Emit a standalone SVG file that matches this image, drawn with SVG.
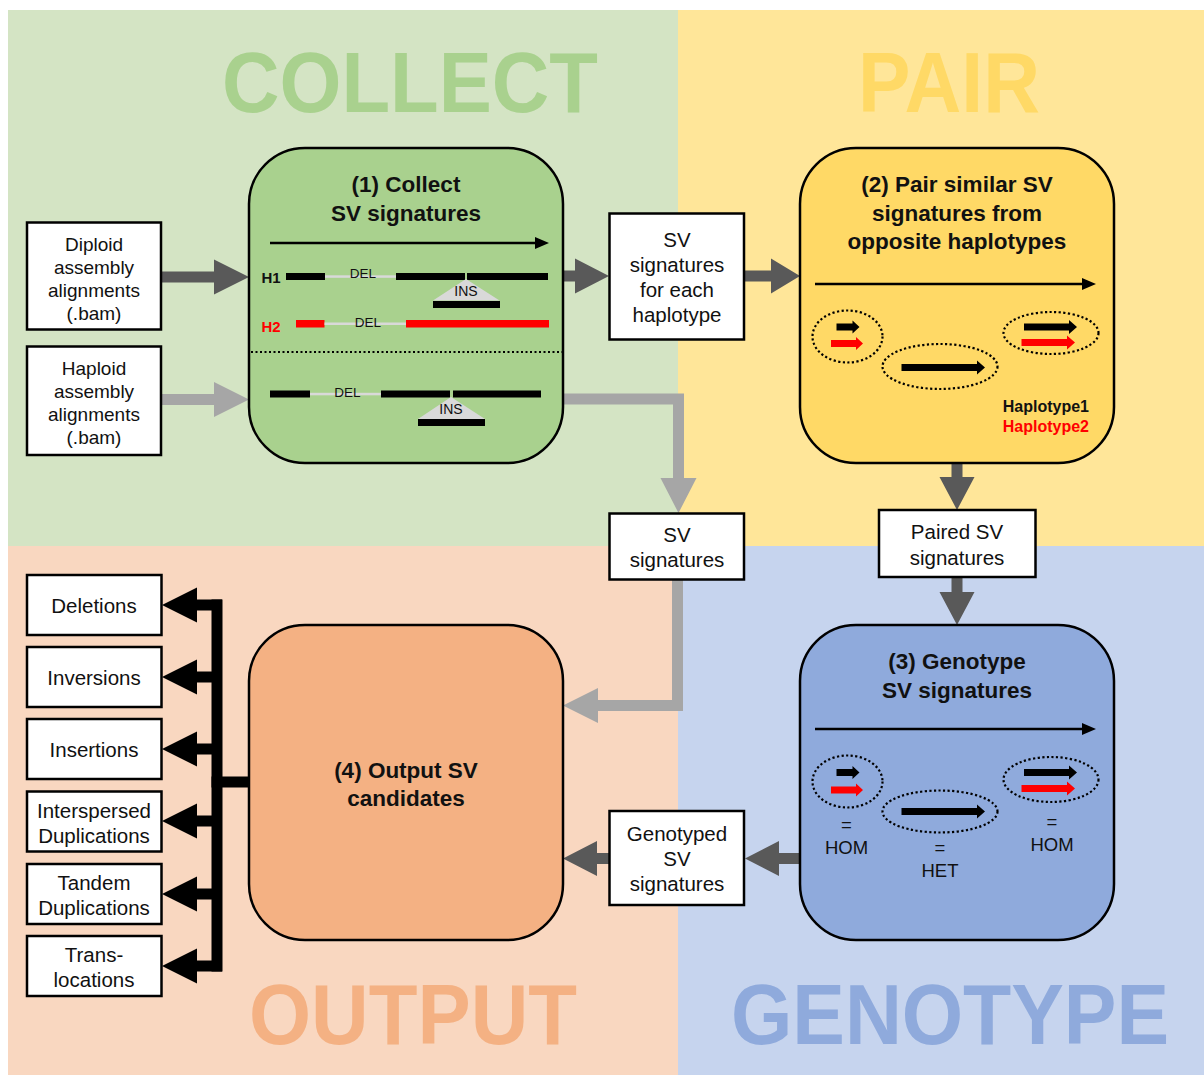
<svg xmlns="http://www.w3.org/2000/svg" width="1204" height="1075" viewBox="0 0 1204 1075">
<style>
.t{font-family:"Liberation Sans",Arial,sans-serif;text-anchor:middle;fill:#111}
.b{font-weight:bold}
.big{font-family:"Liberation Sans",Arial,sans-serif;font-weight:bold;font-size:85px;text-anchor:middle}
.wbox{fill:#fff;stroke:#000;stroke-width:2.5}
.stage{stroke:#000;stroke-width:2.5}
.dk{fill:#595959}
.lt{fill:#a6a6a6}
.dot{fill:none;stroke:#000;stroke-width:2.2;stroke-dasharray:2.2 2.4}
.gl{fill:#d9d9d9}
.red{fill:#ff0000}
</style>
<!-- backgrounds -->
<rect x="8" y="10" width="670" height="536" fill="#d4e4c4"/>
<rect x="678" y="10" width="526" height="536" fill="#ffe699"/>
<rect x="8" y="546" width="670" height="529" fill="#f9d7c0"/>
<rect x="678" y="546" width="526" height="529" fill="#c6d4ee"/>
<text class="big" x="410" y="112" fill="#a9d18e" textLength="376" lengthAdjust="spacingAndGlyphs">COLLECT</text>
<text class="big" x="949" y="112" fill="#ffd966" textLength="182" lengthAdjust="spacingAndGlyphs">PAIR</text>
<text class="big" x="413" y="1044" fill="#f4b183" textLength="328" lengthAdjust="spacingAndGlyphs">OUTPUT</text>
<text class="big" x="950" y="1044" fill="#8faadc" textLength="438" lengthAdjust="spacingAndGlyphs">GENOTYPE</text>

<!-- connectors -->
<g id="connectors">
  <polygon class="dk" points="161,271.5 214,271.5 214,259.5 249,277 214,294.5 214,282.5 161,282.5"/>
  <polygon class="lt" points="161,394 214,394 214,382 249,399.5 214,417 214,405 161,405"/>
  <polygon class="dk" points="563,270.5 575,270.5 575,258.5 609,276 575,293.5 575,281.5 563,281.5"/>
  <polygon class="dk" points="744,270.5 771,270.5 771,258.5 800,276 771,293.5 771,281.5 744,281.5"/>
  <polygon class="lt" points="563,393.5 684,393.5 684,478 696.5,478 678.5,513 660.5,478 673,478 673,404.5 563,404.5"/>
  <polygon class="lt" points="672,580 683,580 683,711 598,711 598,723 563,705.5 598,688 598,700 672,700"/>
  <polygon class="dk" points="951.5,463 962.5,463 962.5,477 974.5,477 957,510 939.5,477 951.5,477"/>
  <polygon class="dk" points="951.5,577 962.5,577 962.5,592 974.5,592 957,625 939.5,592 951.5,592"/>
  <polygon class="dk" points="800,853 779,853 779,841 745,858.5 779,876 779,864 800,864"/>
  <polygon class="dk" points="609,853 597,853 597,841 563,858.5 597,876 597,864 609,864"/>
  <!-- output bracket -->
  <rect x="211.5" y="599.5" width="11" height="372" fill="#000"/>
  <rect x="211.5" y="776.5" width="38" height="11" fill="#000"/>
  <g fill="#000">
    <rect x="196" y="599.5" width="26" height="11"/><polygon points="162,605 197,587.5 197,622.5"/>
    <rect x="196" y="671.5" width="26" height="11"/><polygon points="162,677 197,659.5 197,694.5"/>
    <rect x="196" y="743.5" width="26" height="11"/><polygon points="162,749 197,731.5 197,766.5"/>
    <rect x="196" y="815.5" width="26" height="11"/><polygon points="162,821 197,803.5 197,838.5"/>
    <rect x="196" y="888.5" width="26" height="11"/><polygon points="162,894 197,876.5 197,911.5"/>
    <rect x="196" y="960.5" width="26" height="11"/><polygon points="162,966 197,948.5 197,983.5"/>
  </g>
</g>

<!-- input boxes -->
<g id="diploid">
  <rect class="wbox" x="27" y="222.5" width="134" height="107"/>
  <text class="t" font-size="19"><tspan x="94" y="251">Diploid</tspan><tspan x="94" y="274">assembly</tspan><tspan x="94" y="297">alignments</tspan><tspan x="94" y="320">(.bam)</tspan></text>
</g>
<g id="haploid">
  <rect class="wbox" x="27" y="346.5" width="134" height="108.5"/>
  <text class="t" font-size="19"><tspan x="94" y="375">Haploid</tspan><tspan x="94" y="398">assembly</tspan><tspan x="94" y="421">alignments</tspan><tspan x="94" y="444">(.bam)</tspan></text>
</g>

<!-- (1) Collect -->
<g id="collect">
  <rect class="stage" x="249" y="148" width="314" height="315" rx="56" fill="#a9d18e"/>
  <text class="t b" font-size="22.5"><tspan x="406" y="192">(1) Collect</tspan><tspan x="406" y="220.5">SV signatures</tspan></text>
  <line x1="270" y1="243" x2="536" y2="243" stroke="#000" stroke-width="2.5"/>
  <polygon points="535,237 549,243 535,249" fill="#000"/>
  <text class="t b" font-size="15" x="271" y="283">H1</text>
  <rect x="286" y="273" width="39" height="7" fill="#000"/>
  <rect class="gl" x="325" y="275.3" width="71" height="2.5"/>
  <rect x="396" y="273" width="69" height="7" fill="#000"/>
  <rect x="467" y="273" width="81" height="7" fill="#000"/>
  <text class="t" font-size="13.5" x="363" y="278">DEL</text>
  <polygon class="gl" points="466,279 499.5,300.5 433,300.5"/>
  <text class="t" font-size="14" x="466" y="296">INS</text>
  <rect x="433" y="301" width="67" height="7" fill="#000"/>
  <text class="t b" font-size="15" x="271" y="332" style="fill:#ff0000">H2</text>
  <rect class="red" x="296" y="320" width="28.5" height="7.5"/>
  <rect class="gl" x="324.5" y="322.5" width="82" height="2.5"/>
  <rect class="red" x="406" y="320" width="143" height="7.5"/>
  <text class="t" font-size="13.5" x="368" y="327">DEL</text>
  <line x1="251" y1="352" x2="562" y2="352" stroke="#000" stroke-width="2" stroke-dasharray="2 2.5"/>
  <rect x="270" y="390.5" width="40" height="7" fill="#000"/>
  <rect class="gl" x="310" y="392.8" width="71" height="2.5"/>
  <rect x="381" y="390.5" width="69" height="7" fill="#000"/>
  <rect x="453" y="390.5" width="88" height="7" fill="#000"/>
  <text class="t" font-size="13.5" x="347.5" y="397">DEL</text>
  <polygon class="gl" points="451,397 485,419 418,419"/>
  <text class="t" font-size="14" x="451" y="414">INS</text>
  <rect x="418" y="419" width="67" height="7" fill="#000"/>
</g>

<!-- SV signatures for each haplotype -->
<g id="sv-each">
  <rect class="wbox" x="609.5" y="213.5" width="134.5" height="126"/>
  <text class="t" font-size="20.5"><tspan x="677" y="247">SV</tspan><tspan x="677" y="272">signatures</tspan><tspan x="677" y="297">for each</tspan><tspan x="677" y="322">haplotype</tspan></text>
</g>

<!-- (2) Pair -->
<g id="pair">
  <rect class="stage" x="800" y="148" width="314" height="315" rx="56" fill="#ffd966"/>
  <text class="t b" font-size="22.5"><tspan x="957" y="192">(2) Pair similar SV</tspan><tspan x="957" y="220.5">signatures from</tspan><tspan x="957" y="249">opposite haplotypes</tspan></text>
  <line x1="815" y1="284" x2="1083" y2="284" stroke="#000" stroke-width="2.5"/>
  <polygon points="1082,278 1096,284 1082,290" fill="#000"/>
  <ellipse class="dot" cx="847.5" cy="336.5" rx="35" ry="26"/>
  <polygon fill="#000" points="836.5,323.5 852.5,323.5 852.5,320.5 859.5,327 852.5,333.5 852.5,330.5 836.5,330.5"/>
  <polygon class="red" points="831,340 856,340 856,337 863,343.5 856,350 856,347 831,347"/>
  <ellipse class="dot" cx="940" cy="366.5" rx="57.5" ry="22.5"/>
  <polygon fill="#000" points="901.5,364 977,364 977,360.5 985,367.5 977,374.5 977,371 901.5,371"/>
  <ellipse class="dot" cx="1051" cy="333" rx="47.5" ry="21"/>
  <polygon fill="#000" points="1024,323.5 1069,323.5 1069,320 1077,327 1069,334 1069,330.5 1024,330.5"/>
  <polygon class="red" points="1021.5,339 1067,339 1067,335.5 1075,342.5 1067,349.5 1067,346 1021.5,346"/>
  <text class="t b" font-size="16" x="1089" y="412" style="text-anchor:end">Haplotype1</text>
  <text class="t b" font-size="16" x="1089" y="432" style="text-anchor:end;fill:#ff0000">Haplotype2</text>
</g>

<!-- SV signatures (haploid) -->
<g id="sv-sig">
  <rect class="wbox" x="609.5" y="513.5" width="134.5" height="66"/>
  <text class="t" font-size="20.5"><tspan x="677" y="542">SV</tspan><tspan x="677" y="567">signatures</tspan></text>
</g>

<!-- Paired SV signatures -->
<g id="paired">
  <rect class="wbox" x="879" y="510" width="156.5" height="67"/>
  <text class="t" font-size="20.5"><tspan x="957" y="539">Paired SV</tspan><tspan x="957" y="565">signatures</tspan></text>
</g>

<!-- (3) Genotype -->
<g id="genotype">
  <rect class="stage" x="800" y="625" width="314" height="315" rx="56" fill="#8faadc"/>
  <text class="t b" font-size="22.5"><tspan x="957" y="669">(3) Genotype</tspan><tspan x="957" y="698">SV signatures</tspan></text>
  <line x1="815" y1="729" x2="1083" y2="729" stroke="#000" stroke-width="2.5"/>
  <polygon points="1082,723 1096,729 1082,735" fill="#000"/>
  <ellipse class="dot" cx="847.5" cy="781.5" rx="35" ry="26"/>
  <polygon fill="#000" points="836.5,769 852.5,769 852.5,766 859.5,772.5 852.5,779 852.5,776 836.5,776"/>
  <polygon class="red" points="831,786.5 856,786.5 856,783.5 863,790 856,796.5 856,793.5 831,793.5"/>
  <ellipse class="dot" cx="940" cy="811.5" rx="57.5" ry="21"/>
  <polygon fill="#000" points="901.5,808 977,808 977,804.5 985,811.5 977,818.5 977,815 901.5,815"/>
  <ellipse class="dot" cx="1051" cy="779.5" rx="47.5" ry="22.5"/>
  <polygon fill="#000" points="1024,769 1069,769 1069,765.5 1077,772.5 1069,779.5 1069,776 1024,776"/>
  <polygon class="red" points="1021.5,785 1067,785 1067,781.5 1075,788.5 1067,795.5 1067,792 1021.5,792"/>
  <text class="t" font-size="18.5"><tspan x="846.5" y="831">=</tspan><tspan x="846.5" y="854">HOM</tspan></text>
  <text class="t" font-size="18.5"><tspan x="940" y="854">=</tspan><tspan x="940" y="877">HET</tspan></text>
  <text class="t" font-size="18.5"><tspan x="1052" y="828">=</tspan><tspan x="1052" y="851">HOM</tspan></text>
</g>

<!-- Genotyped SV signatures -->
<g id="genotyped">
  <rect class="wbox" x="609.5" y="811" width="134.5" height="94"/>
  <text class="t" font-size="20.5"><tspan x="677" y="841">Genotyped</tspan><tspan x="677" y="866">SV</tspan><tspan x="677" y="891">signatures</tspan></text>
</g>

<!-- (4) Output -->
<g id="output">
  <rect class="stage" x="249" y="625" width="314" height="315" rx="56" fill="#f4b183"/>
  <text class="t b" font-size="22.5"><tspan x="406" y="778">(4) Output SV</tspan><tspan x="406" y="806">candidates</tspan></text>
</g>

<!-- output list -->
<g id="deletions"><rect class="wbox" x="27" y="575" width="134.5" height="60"/><text class="t" font-size="20.5" x="94" y="612.5">Deletions</text></g>
<g id="inversions"><rect class="wbox" x="27" y="647" width="134.5" height="60"/><text class="t" font-size="20.5" x="94" y="685">Inversions</text></g>
<g id="insertions"><rect class="wbox" x="27" y="719" width="134.5" height="60"/><text class="t" font-size="20.5" x="94" y="757">Insertions</text></g>
<g id="interspersed"><rect class="wbox" x="27" y="791.5" width="134.5" height="60"/><text class="t" font-size="20.5"><tspan x="94" y="818">Interspersed</tspan><tspan x="94" y="843">Duplications</tspan></text></g>
<g id="tandem"><rect class="wbox" x="27" y="864" width="134.5" height="60"/><text class="t" font-size="20.5"><tspan x="94" y="890">Tandem</tspan><tspan x="94" y="915">Duplications</tspan></text></g>
<g id="translocations"><rect class="wbox" x="27" y="936" width="134.5" height="60"/><text class="t" font-size="20.5"><tspan x="94" y="962">Trans-</tspan><tspan x="94" y="987">locations</tspan></text></g>
</svg>
